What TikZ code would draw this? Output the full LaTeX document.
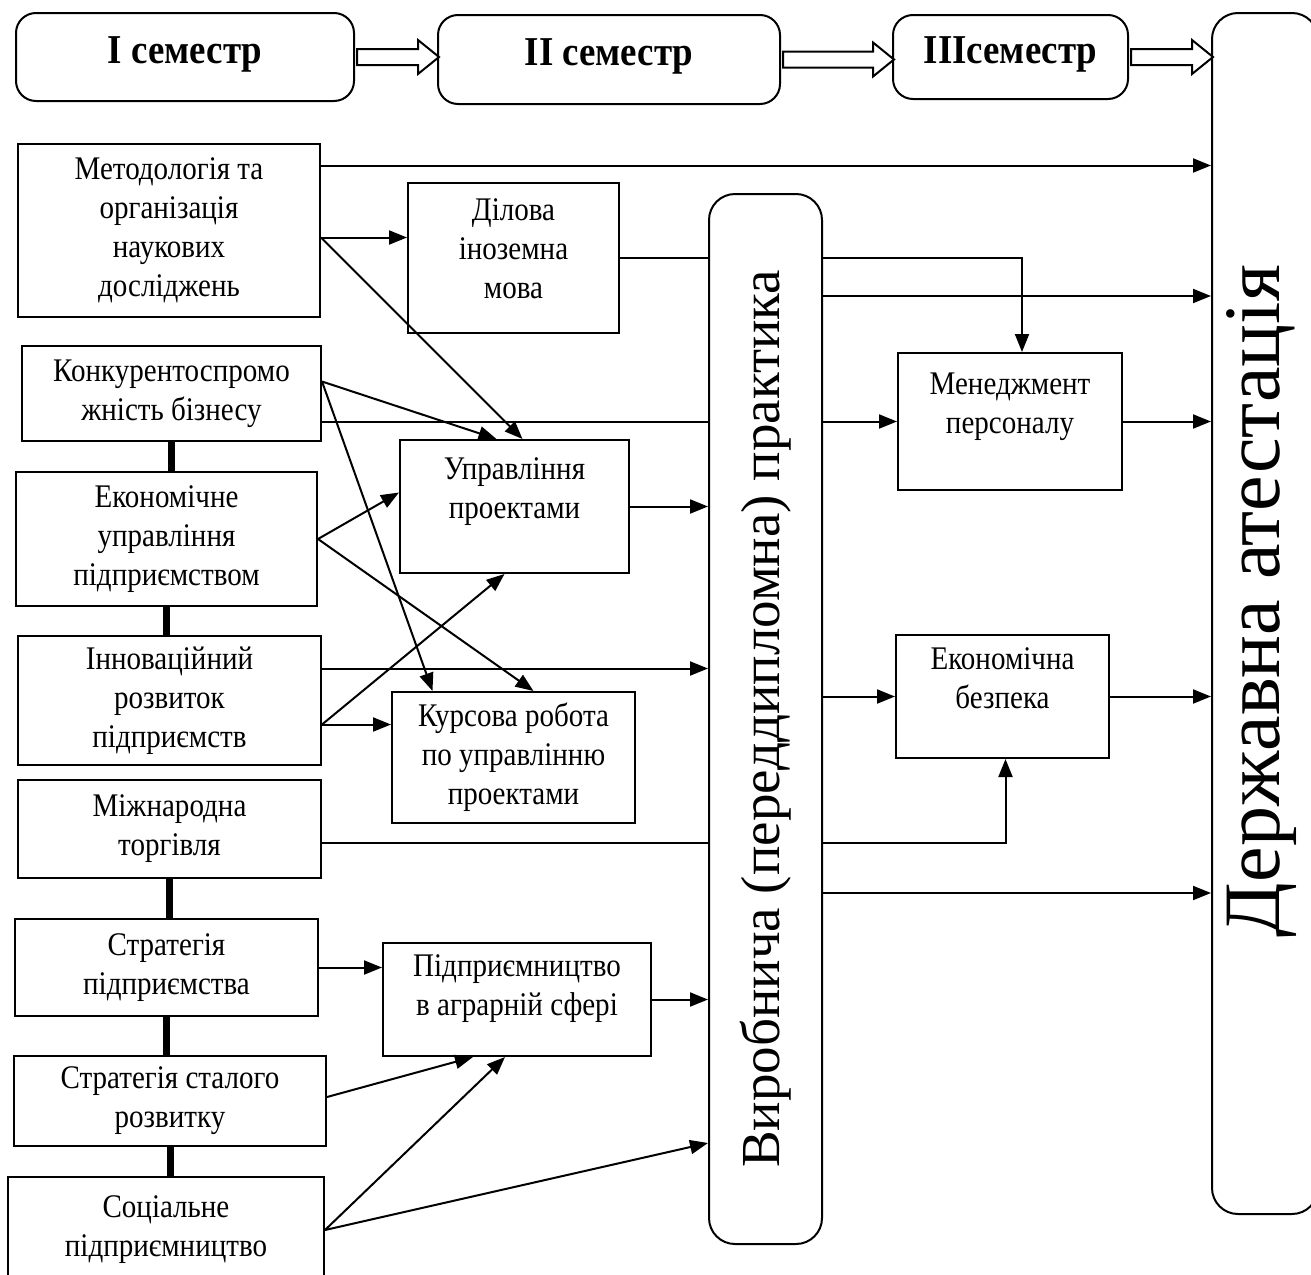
\documentclass[tikz,border=0pt]{standalone}
\usepackage{fontspec}
\setmainfont{Liberation Serif}
\newfontfamily\narrowfont{Liberation Serif}[FakeStretch=0.88]
\newfontfamily\narrowbf{Liberation Serif Bold}[FakeStretch=0.9]
\usetikzlibrary{arrows.meta}

\tikzset{
  blk/.style={draw, line width=2pt, align=center, inner sep=0pt, font=\narrowfont\fontsize{33}{39}\selectfont},
  topbias/.style={text depth=36pt},
  sem/.style={draw, line width=2pt, rounded corners=20pt, inner sep=0pt, text depth=14pt, font=\narrowbf\fontsize{41}{46}\selectfont},
  col/.style={draw, line width=2pt, rounded corners=26pt},
  arr/.style={line width=2pt, -{Triangle[length=18pt,width=14pt]}},
  ln/.style={line width=2pt},
  bar/.style={line width=7pt}
}
% hollow arrow: tail point, length
\newcommand\hollowarrow[2]{%
  \draw[ln, line join=miter] (#1) ++(0,-8) -- ++(#2-21,0) -- ++(0,-9) -- ++(21,17)
    -- ++(-21,17) -- ++(0,-9) -- ++(-#2+21,0) -- cycle;}

\begin{document}
\begin{tikzpicture}[x=1pt,y=-1pt]
  \useasboundingbox (0,0) rectangle (1311,1274);
  \clip (0,0) rectangle (1311,1274);

  % Semesters
  \node[sem, minimum width=338pt, minimum height=88pt] (s1) at (185,57) {I семестр};
  \node[sem, minimum width=342pt, minimum height=89pt] (s2) at (609,59.5) {II семестр};
  \node[sem, minimum width=235pt, minimum height=84pt] (s3) at (1010.5,57) {IIIсеместр};

  % Practice and final attestation
  \node[col, minimum width=113pt, minimum height=1050pt] (prak) at (765.5,719) {};
  \node[col, minimum width=106pt, minimum height=1201pt] (da) at (1265,613.5) {};
  \node[rotate=90, font=\fontsize{55}{60}\selectfont] (praktxt) at (prak.center) {Виробнича (переддипломна) практика};
  \node[rotate=90, font=\fontsize{80}{84}\selectfont] (datxt) at ([shift={(-3pt,12pt)}]da.center) {Державна атестація};

  % Hollow arrows between semesters
  \coordinate (t1) at ([xshift=2pt]s1.east);
  \coordinate (t2) at ([xshift=2pt]s2.east);
  \coordinate (t3) at ([xshift=2pt]s3.east);
  \hollowarrow{t1}{82}
  \hollowarrow{t2}{111}
  \hollowarrow{t3}{82}

  % First semester disciplines
  \node[blk, minimum width=302pt, minimum height=173pt] (metod) at (169,230.5) {Методологія та\\організація\\наукових\\досліджень};
  \node[blk, minimum width=299pt, minimum height=95pt] (konk) at (171.5,393.5) {Конкурентоспромо\\жність бізнесу};
  \node[blk, minimum width=301pt, minimum height=134pt] (econ) at (166.5,539) {Економічне\\управління\\підприємством};
  \node[blk, minimum width=303pt, minimum height=129pt] (innov) at (169.5,700.5) {Інноваційний\\розвиток\\підприємств};
  \node[blk, minimum width=303pt, minimum height=98pt] (mizh) at (169.5,829) {Міжнародна\\торгівля};
  \node[blk, minimum width=303pt, minimum height=97pt] (strat) at (166.5,967.5) {Стратегія\\підприємства};
  \node[blk, minimum width=312pt, minimum height=90pt] (stal) at (170,1101) {Стратегія сталого\\розвитку};
  \node[blk, minimum width=316pt, minimum height=106pt] (soc) at (166,1230) {Соціальне\\підприємництво};

  % Second semester disciplines
  \node[blk, text depth=18pt, minimum width=211pt, minimum height=150pt] (dil) at (513.5,258) {Ділова\\іноземна\\мова};
  \node[blk, topbias, minimum width=229pt, minimum height=133pt] (upr) at (514.5,506.5) {Управління\\проектами};
  \node[blk, minimum width=243pt, minimum height=131pt] (kurs) at (513.5,757.5) {Курсова робота\\по управлінню\\проектами};
  \node[blk, text depth=28pt, minimum width=268pt, minimum height=113pt] (pidpr) at (517,999.5) {Підприємництво\\в аграрній сфері};

  % Third semester disciplines
  \node[blk, topbias, minimum width=224pt, minimum height=137pt] (menedzh) at (1010,421.5) {Менеджмент\\персоналу};
  \node[blk, topbias, minimum width=213pt, minimum height=123pt] (ekbez) at (1002.5,696.5) {Економічна\\безпека};

  % Thick links in the left column
  \draw[bar] (konk.south) -- (konk.south |- econ.north);
  \draw[bar] (econ.south) -- (econ.south |- innov.north);
  \draw[bar] (mizh.south) -- (mizh.south |- strat.north);
  \draw[bar] (strat.south) -- (strat.south |- stal.north);
  \draw[bar] (stal.south) -- (stal.south |- soc.north);

  % Start points of connectors
  \coordinate (mA) at ([yshift=65pt]metod.east);
  \coordinate (mB) at ([yshift=-7pt]metod.east);
  \coordinate (kA) at ([yshift=12pt]konk.east);
  \coordinate (iA) at ([yshift=32pt]innov.east);
  \coordinate (iB) at ([yshift=-24pt]innov.east);
  \coordinate (zA) at ([yshift=-14pt]mizh.east);
  \coordinate (pA) at ([yshift=423pt]prak.east);
  \coordinate (pB) at ([yshift=-174pt]prak.east);
  \coordinate (sA) at ([yshift=4pt]stal.east);
  \coordinate (cA) at ([yshift=-424pt]prak.west);

  % Connectors
  \draw[arr] (mA) -- (mA -| da.west);
  \draw[arr] (mB) -- (mB -| dil.west);
  \draw[arr] (mB) -- ([xshift=8pt]upr.north);
  \draw[arr] (kA) -- ([xshift=-18pt]upr.north);
  \draw[arr] (kA) -- ([xshift=-81pt]kurs.north);
  \draw[ln] (konk.east |- menedzh.west) -- (prak.west |- menedzh.west);
  \draw[arr] (prak.east |- menedzh.west) -- (menedzh.west);
  \draw[ln] (dil.east) -- (dil.east -| prak.west);
  \draw[arr] (dil.east -| prak.east) -| ([xshift=12pt]menedzh.north);
  \draw[arr] (pA) -- (pA -| da.west);
  \draw[arr] (menedzh.east) -- (menedzh.east -| da.west);
  \draw[arr] (econ.east) -- ([yshift=14pt]upr.west);
  \draw[arr] (econ.east) -- ([xshift=20pt]kurs.north);
  \draw[arr] (upr.east) -- (upr.east -| prak.west);
  \draw[arr] (iA) -- (iA -| prak.west);
  \draw[arr] (iB) -- ([xshift=-10pt]upr.south);
  \draw[arr] (iB) -- (iB -| kurs.west);
  \draw[arr] (prak.east |- ekbez.west) -- (ekbez.west);
  \draw[arr] (ekbez.east) -- (ekbez.east -| da.west);
  \draw[ln] (zA) -- (zA -| prak.west);
  \draw[arr] (zA -| prak.east) -| ([xshift=3pt]ekbez.south);
  \draw[arr] (pB) -- (pB -| da.west);
  \draw[arr] (strat.east) -- (strat.east -| pidpr.west);
  \draw[arr] (pidpr.east) -- (pidpr.east -| prak.west);
  \draw[arr] (sA) -- ([xshift=-44pt]pidpr.south);
  \draw[arr] (soc.east) -- ([xshift=-12pt]pidpr.south);
  \draw[arr] (soc.east) -- (cA);
\end{tikzpicture}
\end{document}
